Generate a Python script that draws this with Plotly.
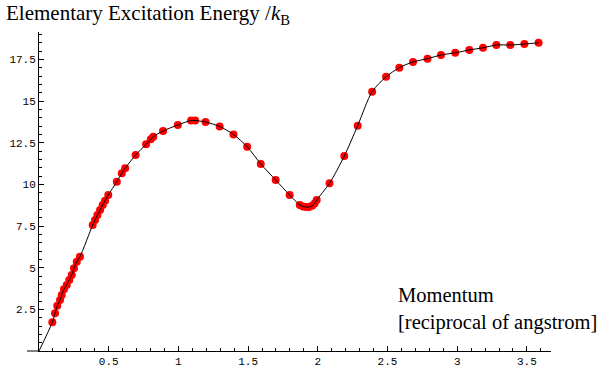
import plotly.graph_objects as go

# Measured points: momentum (1/angstrom) and excitation energy (K)
momentum = [0.0955, 0.115, 0.131, 0.151, 0.163, 0.179, 0.199, 0.217, 0.235, 0.251, 0.271, 0.294,
            0.385, 0.402, 0.419, 0.438, 0.457, 0.474, 0.497, 0.558, 0.594, 0.618,
            0.693, 0.768, 0.802, 0.820, 0.890, 0.996, 1.091, 1.120, 1.195, 1.296, 1.395,
            1.493, 1.591, 1.698, 1.798, 1.871, 1.894, 1.916, 1.937, 1.959, 1.977, 1.992,
            2.084, 2.19, 2.286, 2.39, 2.49, 2.585, 2.683, 2.787, 2.884, 2.986, 3.087,
            3.185, 3.281, 3.381, 3.482, 3.584]
energy = [1.72, 2.26, 2.72, 3.06, 3.36, 3.70, 3.96, 4.26, 4.56, 4.96, 5.36, 5.66,
          7.56, 7.86, 8.16, 8.46, 8.76, 9.02, 9.36, 10.16, 10.66, 10.96,
          11.76, 12.40, 12.70, 12.86, 13.20, 13.56, 13.83, 13.83, 13.74, 13.47, 12.99,
          12.26, 11.22, 10.26, 9.36, 8.76, 8.67, 8.64, 8.64, 8.71, 8.85, 9.06,
          10.06, 11.70, 13.52, 15.56, 16.45, 17.00, 17.34, 17.54, 17.76, 17.89, 18.06,
          18.19, 18.36, 18.36, 18.42, 18.49]

# Fitted curve starts at the origin
curve_x = [0.0] + momentum
curve_y = [0.0] + energy

x_tick_vals = [0.5, 1, 1.5, 2, 2.5, 3, 3.5]
x_tick_text = ["0.5", "1", "1.5", "2", "2.5", "3", "3.5"]
y_tick_vals = [2.5, 5, 7.5, 10, 12.5, 15, 17.5]
y_tick_text = ["2.5", "5", "7.5", "10", "12.5", "15", "17.5"]

fig = go.Figure()
fig.add_trace(go.Scatter(x=momentum, y=energy, mode="markers",
                         marker=dict(color="#ff0000", size=8, line=dict(width=0)),
                         showlegend=False, hoverinfo="skip"))
fig.add_trace(go.Scatter(x=curve_x, y=curve_y, mode="lines",
                         line=dict(color="black", width=1, shape="spline", smoothing=0.8),
                         showlegend=False, hoverinfo="skip"))

tickfont = dict(family="Liberation Mono", size=11, color="black")
fig.update_layout(
    width=604, height=374,
    margin=dict(l=39, r=53, t=32, b=23, pad=0),
    paper_bgcolor="white", plot_bgcolor="white",
    title=dict(text="Elementary Excitation Energy /<i>k</i><sub>B</sub>",
               font=dict(family="Liberation Serif", size=21, color="black"),
               xref="container", yref="container", x=6/604, xanchor="left",
               y=1 - 13/374, yanchor="middle"),
    xaxis=dict(range=[0, 3.673], showgrid=False, zeroline=False, showline=True,
               linecolor="black", linewidth=1, ticks="inside", ticklen=5, tickwidth=1,
               tickcolor="black", tickmode="array", tickvals=x_tick_vals, ticktext=x_tick_text,
               tickfont=tickfont, automargin=False,
               minor=dict(tickmode="linear", tick0=0, dtick=0.1, ticks="inside",
                          ticklen=3, tickcolor="black", showgrid=False)),
    yaxis=dict(range=[0, 19.14], showgrid=False, zeroline=False, showline=True,
               linecolor="black", linewidth=1, ticks="inside", ticklen=5, tickwidth=1,
               tickcolor="black", tickmode="array", tickvals=y_tick_vals, ticktext=y_tick_text,
               tickfont=tickfont, automargin=False,
               minor=dict(tickmode="linear", tick0=0, dtick=0.5, ticks="inside",
                          ticklen=3, tickcolor="black", showgrid=False)),
    shapes=[dict(type="line", xref="paper", yref="paper", x0=-12/512, x1=0, y0=0, y1=0,
                 line=dict(color="black", width=1))],
    annotations=[dict(text="Momentum<br>[reciprocal of angstrom]", xref="paper", yref="paper",
                      x=(396-39)/512, y=(351-309)/319, xanchor="left", yanchor="middle",
                      align="left", showarrow=False,
                      font=dict(family="Liberation Serif", size=20.5, color="black"))],
)

fig.write_html("out.html")
